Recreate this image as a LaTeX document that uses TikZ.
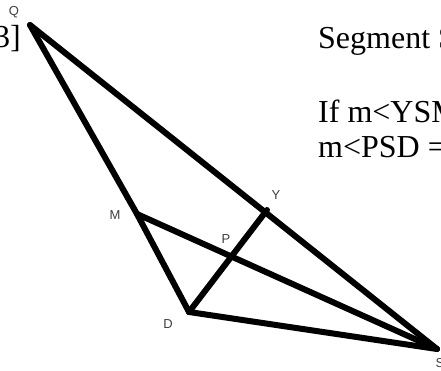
\documentclass[tikz,border=0pt]{standalone}
\usepackage{fontspec}
\setmainfont{Liberation Serif}
\newfontfamily\labelfont{Liberation Sans}
\usetikzlibrary{positioning}

\begin{document}
\begin{tikzpicture}[
    x=1pt, y=-1pt,
    seg/.style={line width=6pt, line cap=round, line join=round},
    pt/.style={font=\labelfont\fontsize{13}{13}\selectfont, text=black!75, inner sep=0pt},
    txt/.style={font=\fontsize{32}{36}\selectfont, anchor=base west, inner sep=0pt}
  ]
    \useasboundingbox (0,0) rectangle (441,370);
    \clip (0,0) rectangle (441,370);

    % points of the figure
    \coordinate (q) at (30,25);
    \coordinate (m) at (137,214);
    \coordinate (d) at (189,312);
    \coordinate (y) at (267,210);
    \coordinate (p) at (232,258);
    \coordinate (s) at (437,349);

    % segments
    \draw[seg] (q) -- (m) -- (d);
    \draw[seg] (q) -- (s);
    \draw[seg] (m) -- (s);
    \draw[seg] (d) -- (s);
    \draw[seg] (d) -- (y);

    % point labels
    \node[pt] (lq) at (14,12) {Q};
    \node[pt] (lm) at (115,215) {M};
    \node[pt] (ly) at (276,195) {Y};
    \node[pt] (lp) at (226,239) {P};
    \node[pt] (ld) at (168,324) {D};
    \node[pt] (ls) at (440,363) {S};

    % problem text
    \node[txt] (num) at (-6,47) {3]};
    \node[txt] (line1) at (318,48) {Segment S};
    \node[txt] (line2) at (318,122) {If m<YSM};
    \node[txt] (line3) at (318,157) {m<PSD =};
\end{tikzpicture}
\end{document}
